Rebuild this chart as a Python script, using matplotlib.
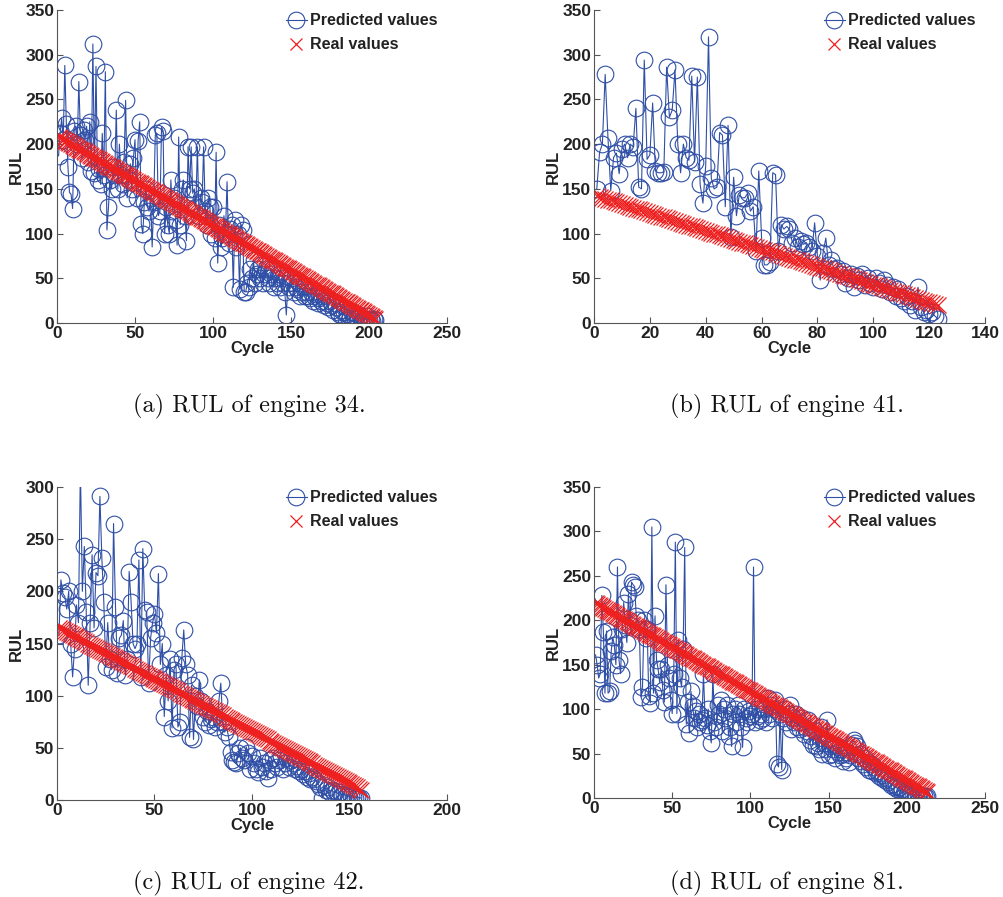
import matplotlib
matplotlib.use("Agg")
import matplotlib.pyplot as plt

# real RUL is a countdown to failure, one value per cycle
real_34 = list(range(208, 4, -1))
real_41 = list(range(142, 19, -1))
real_42 = list(range(165, 9, -1))
real_81 = list(range(219, 6, -1))

pred_34 = [
    187, 212, 229, 205, 288, 222, 175, 146, 144, 128,
    215, 220, 200, 270, 210, 185, 216, 205, 220, 180,
    225, 170, 312, 168, 287, 160, 172, 155, 212, 165,
    281, 104, 130, 160, 150, 175, 165, 238, 150, 200,
    165, 155, 180, 249, 140, 160, 178, 150, 185, 205,
    140, 204, 225, 111, 100, 135, 150, 130, 125, 140,
    85, 135, 210, 212, 120, 125, 219, 215, 100, 130,
    110, 100, 160, 125, 140, 115, 87, 208, 110, 150,
    160, 120, 92, 197, 150, 197, 145, 150, 130, 197,
    120, 140, 135, 197, 125, 110, 140, 130, 100, 130,
    95, 191, 67, 110, 85, 95, 120, 100, 158, 90,
    105, 110, 40, 115, 85, 100, 38, 110, 104, 35,
    35, 45, 40, 60, 50, 70, 45, 55, 60, 50,
    65, 45, 55, 60, 50, 45, 55, 60, 40, 50,
    45, 55, 40, 50, 45, 35, 9, 45, 40, 50,
    45, 35, 40, 38, 45, 30, 35, 40, 30, 35,
    30, 28, 35, 25, 30, 32, 22, 28, 25, 30,
    20, 25, 22, 18, 25, 20, 15, 22, 18, 12,
    10, 15, 8, 12, 5, 10, 3, 8, 12, 6,
    4, 10, 5, 8, 3, 6, 4, 5, 8, 3,
    4, 2, 5, 3,
]

pred_41 = [
    150, 191, 200, 278, 207, 148, 185, 190, 167, 195,
    200, 185, 200, 197, 240, 152, 150, 294, 183, 188,
    246, 170, 168, 168, 169, 286, 230, 238, 283, 200,
    168, 200, 185, 182, 276, 180, 275, 155, 134, 176,
    320, 162, 150, 152, 213, 210, 130, 221, 96, 163,
    120, 143, 140, 140, 145, 125, 130, 80, 170, 95,
    65, 65, 68, 168, 166, 80, 110, 105, 108, 105,
    90, 95, 85, 92, 88, 90, 85, 80, 112, 75,
    48, 78, 95, 65, 70, 60, 62, 55, 58, 45,
    50, 55, 40, 52, 48, 55, 42, 50, 45, 40,
    50, 45, 38, 48, 42, 35, 40, 30, 38, 28,
    25, 30, 20, 25, 15, 40, 18, 12, 15, 10,
    12, 8, 5,
]

pred_42 = [
    158, 211, 198, 195, 183, 200, 150, 118, 145, 187,
    170, 320, 200, 243, 180, 110, 170, 235, 165, 218,
    215, 291, 232, 190, 127, 170, 135, 125, 265, 185,
    122, 155, 158, 172, 120, 135, 219, 190, 150, 145,
    150, 230, 118, 241, 182, 180, 112, 155, 170, 178,
    160, 217, 130, 150, 80, 120, 95, 135, 69, 125,
    130, 70, 75, 136, 163, 130, 120, 60, 110, 58,
    100, 90, 115, 95, 80, 75, 85, 72, 78, 80,
    70, 75, 95, 112, 75, 65, 70, 60, 46, 38,
    36, 35, 45, 50, 40, 38, 51, 45, 30, 42,
    35, 30, 27, 40, 32, 35, 28, 21, 38, 30,
    40, 35, 32, 38, 42, 30, 35, 40, 32, 38,
    35, 30, 33, 28, 30, 25, 28, 22, 26, 20,
    22, 20, 18, 15, 12, 2, 14, 10, 12, 8,
    10, 7, 9, 6, 8, 5, 6, 4, 5, 3,
    4, 3, 2, 3, 2, 2,
]

pred_81 = [
    161, 150, 135, 140, 228, 187, 118, 188, 118, 120,
    165, 181, 172, 150, 260, 155, 140, 190, 220, 195,
    175, 230, 195, 243, 240, 238, 205, 200, 190, 114,
    125, 200, 180, 190, 115, 107, 305, 118, 205, 155,
    145, 130, 145, 122, 108, 240, 150, 135, 110, 95,
    140, 288, 95, 178, 135, 125, 168, 282, 83, 108,
    73, 120, 103, 90, 98, 80, 95, 85, 88, 140,
    90, 82, 100, 75, 62, 140, 85, 80, 105, 95,
    110, 75, 100, 90, 105, 70, 80, 58, 95, 100,
    85, 105, 95, 80, 57, 100, 90, 85, 98, 92,
    95, 260, 85, 100, 92, 88, 95, 90, 100, 86,
    113, 95, 105, 90, 100, 110, 38, 35, 95, 32,
    90, 100, 85, 95, 105, 78, 90, 85, 95, 80,
    85, 78, 90, 72, 80, 75, 88, 65, 70, 60,
    75, 58, 62, 55, 80, 50, 62, 55, 88, 48,
    58, 50, 55, 45, 60, 52, 48, 55, 42, 50,
    45, 52, 40, 48, 60, 65, 62, 58, 45, 50,
    42, 38, 45, 35, 40, 32, 38, 30, 35, 28,
    30, 25, 28, 22, 26, 20, 22, 18, 20, 15,
    16, 12, 14, 10, 12, 8, 10, 6, 8, 5,
    6, 4, 5, 3, 4, 2, 3, 2, 3, 1,
    2, 1, 2,
]

captions = ["(a) RUL of engine 34.", "(b) RUL of engine 41.",
            "(c) RUL of engine 42.", "(d) RUL of engine 81."]
x_max = [250, 140, 200, 250]
x_step = [50, 20, 50, 50]
y_max = [350, 350, 300, 350]

BLUE = "#2f4fa6"
RED = "#ee2020"
TXT = "#222222"

plt.rcParams["font.family"] = ["Liberation Sans", "DejaVu Sans"]
plt.rcParams["font.weight"] = "bold"

fig = plt.figure(figsize=(10.04, 8.97), dpi=100)

# axes boxes in pixels: left, top, width, height
boxes = [(57, 10, 390, 313), (594, 10, 391, 313),
         (57, 487, 390, 313), (594, 487, 391, 311)]

panels = [(pred_34, real_34), (pred_41, real_41),
          (pred_42, real_42), (pred_81, real_81)]

W, H = 1004, 897
for i, (pred, real) in enumerate(panels):
    l, t, w, h = boxes[i]
    ax = fig.add_axes([l / W, 1 - (t + h) / H, w / W, h / H])
    cyc_p = list(range(1, len(pred) + 1))
    cyc_r = list(range(1, len(real) + 1))
    ax.plot(cyc_p, pred, "-o", color=BLUE, lw=0.8, ms=12, mfc="none",
            mec=BLUE, mew=0.8, label="Predicted values")
    ax.plot(cyc_r, real, "x", color=RED, ms=11, mew=0.9, label="Real values")

    ax.set_xlim(0, x_max[i])
    ax.set_ylim(0, y_max[i])
    ax.set_xticks(range(0, x_max[i] + 1, x_step[i]))
    ax.set_yticks(range(0, y_max[i] + 1, 50))
    for s in ["top", "right"]:
        ax.spines[s].set_visible(False)
    for s in ["left", "bottom"]:
        ax.spines[s].set_color("#555555")
        ax.spines[s].set_linewidth(0.8)
    ax.tick_params(direction="in", length=4, width=0.8, colors="#555555",
                   labelcolor=TXT, labelsize=12.5, pad=2)
    for lab in ax.get_xticklabels() + ax.get_yticklabels():
        lab.set_fontweight("bold")
    ax.set_xlabel("Cycle", fontsize=12, fontweight="bold", color=TXT, labelpad=0)
    ax.set_ylabel("RUL", fontsize=12, fontweight="bold", color=TXT, labelpad=1)

    leg = ax.legend(loc="upper right", bbox_to_anchor=(1.0, 1.02), frameon=False,
                    fontsize=11.5, handlelength=1.3, handletextpad=0.2,
                    borderaxespad=0.2, labelspacing=0.55)
    leg.legend_handles[1].set_markersize(8)
    for txt in leg.get_texts():
        txt.set_fontweight("bold")
        txt.set_color(TXT)

    cx = (l + w / 2 - 3) / W
    cy = 1 - (406 if i < 2 else 883) / H
    fig.text(cx, cy, captions[i], ha="center", va="center", fontsize=17.5,
             family="cmr10", fontweight="normal", color="#111111")

fig.savefig("out.png", dpi=100)
